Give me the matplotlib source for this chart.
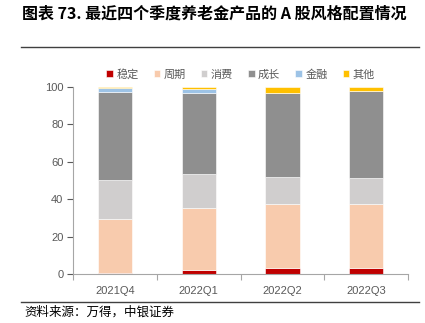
import matplotlib.pyplot as plt
import numpy as np

plt.rcParams['font.family'] = ['Noto Sans CJK SC', 'DejaVu Sans']

quarters = ['2021Q4', '2022Q1', '2022Q2', '2022Q3']
styles = ['稳定', '周期', '消费', '成长', '金融', '其他']
colors = ['#C00000', '#F8CBAD', '#D0CECE', '#8F8F8F', '#9DC3E6', '#FFC000']

# share of each style per quarter (%)
stable = [0.5, 2.1, 2.9, 3.0]
cyclical = [28.7, 32.9, 34.3, 34.2]
consumer = [21.0, 18.3, 14.5, 13.9]
growth = [47.2, 43.5, 45.1, 46.8]
finance = [2.0, 2.0, 0.0, 0.0]
other = [0.6, 1.2, 3.2, 2.1]
series = [stable, cyclical, consumer, growth, finance, other]

fig = plt.figure(figsize=(4.25, 3.23), dpi=100)
ax = fig.add_axes([0.172, 0.152, 0.788, 0.579])

x = np.arange(len(quarters))
bottom = np.zeros(len(quarters))
for name, vals, c in zip(styles, series, colors):
    ax.bar(x, vals, bottom=bottom, width=0.41, color=c, label=name,
           edgecolor='white', linewidth=0.4)
    bottom += np.array(vals)

ax.set_xlim(-0.5, len(quarters) - 0.5)
ax.set_ylim(0, 100)
ax.set_yticks(range(0, 101, 20))
ax.tick_params(axis='y', colors='#595959', labelsize=8, length=4, width=0.8, pad=3)
ax.set_xticks(np.arange(-0.5, len(quarters)), minor=False)
ax.set_xticklabels([])
ax.set_xticks(x, minor=True)
ax.set_xticklabels(quarters, minor=True)
ax.tick_params(axis='x', which='major', colors='#A6A6A6', length=4, width=0.8)
ax.tick_params(axis='x', which='minor', length=0, labelsize=8, labelcolor='#595959', pad=9)
for lbl in ax.get_yticklabels() + ax.get_xticklabels(minor=True):
    lbl.set_family(['Liberation Sans', 'DejaVu Sans'])
for side in ['top', 'right']:
    ax.spines[side].set_visible(False)
for side in ['left', 'bottom']:
    ax.spines[side].set_color('#A6A6A6')
    ax.spines[side].set_linewidth(0.8)

leg = ax.legend(loc='lower center', bbox_to_anchor=(0.5, 0.985), ncol=6, frameon=False,
                fontsize=8, handlelength=0.6, handleheight=0.6, handletextpad=0.3,
                columnspacing=1.35)
for t in leg.get_texts():
    t.set_color('#595959')

fig.text(0.052, 0.957, '图表 73. 最近四个季度养老金产品的 A 股风格配置情况',
         fontsize=11.5, fontweight='bold', va='center', ha='left')
fig.add_artist(plt.Line2D([0.05, 0.985], [0.855, 0.855], color='#404040', linewidth=1))
fig.add_artist(plt.Line2D([0.05, 0.985], [0.065, 0.065], color='#404040', linewidth=1))
fig.text(0.058, 0.033, '资料来源：万得，中银证券', fontsize=9, style='italic',
         va='center', ha='left')

fig.savefig('out.png', dpi=100)
